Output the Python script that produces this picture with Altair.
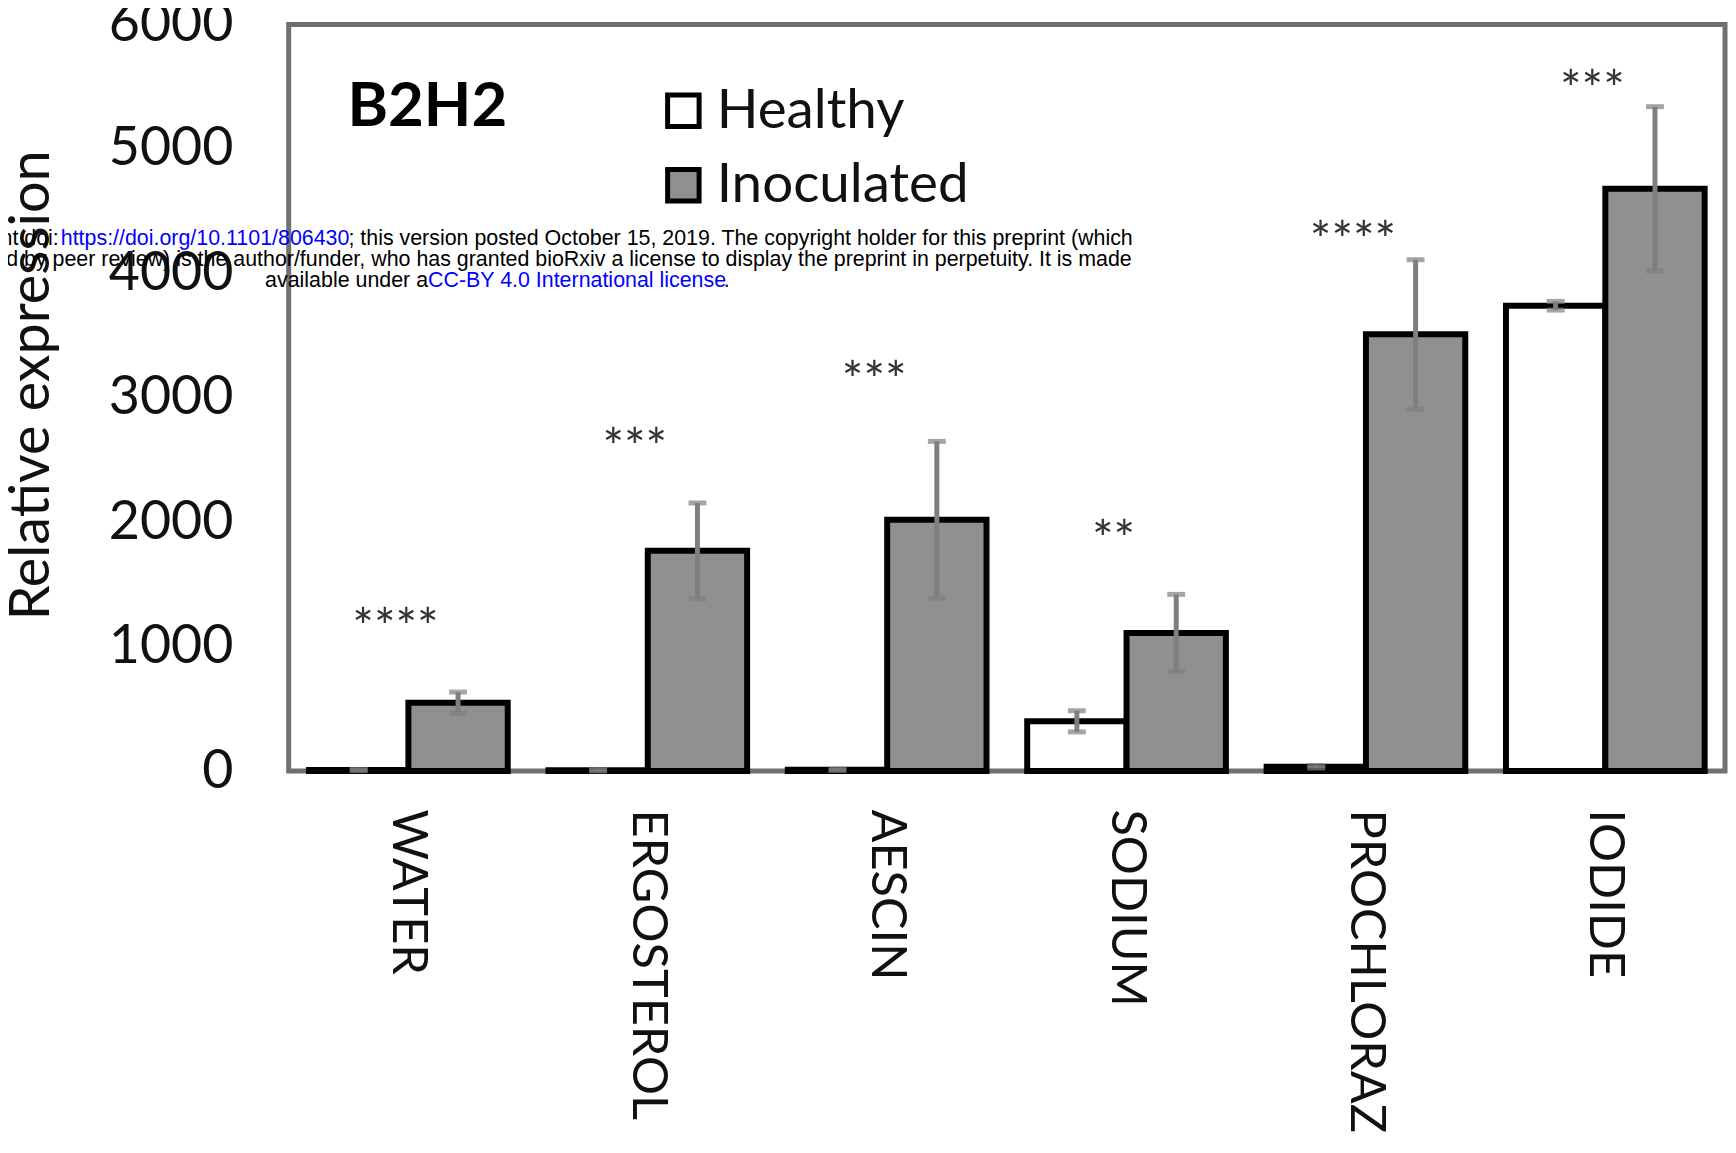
import altair as alt
import pandas as pd

categories = ["WATER", "ERGOSTEROL", "AESCIN", "SODIUM", "PROCHLORAZ", "IODIDE"]
groups = ["Healthy", "Inoculated"]
healthy = [8, 6, 10, 400, 35, 3740]
healthy_err = [5, 5, 5, 85, 10, 35]
inoculated = [550, 1770, 2020, 1110, 3510, 4680]
inoculated_err = [85, 385, 630, 310, 600, 660]
stars = ["****", "***", "***", "**", "****", "***"]
star_level = [1244, 2693, 3227, 1956, 4356, 5573]
y_ticks = [0, 1000, 2000, 3000, 4000, 5000, 6000]

rows = []
for i, c in enumerate(categories):
    rows.append({"category": c, "group": "Healthy", "value": healthy[i], "err": healthy_err[i]})
    rows.append({"category": c, "group": "Inoculated", "value": inoculated[i], "err": inoculated_err[i]})
df = pd.DataFrame(rows)
df["lo"] = df["value"] - df["err"]
df["hi"] = df["value"] + df["err"]
star_df = pd.DataFrame({"category": categories, "stars": stars, "level": star_level})

FONT = "Lato"
x_enc = alt.X(
    "category:N", sort=categories,
    scale=alt.Scale(paddingInner=0.17, paddingOuter=0.085),
    axis=alt.Axis(title=None, labelAngle=90, labelAlign="left", labelBaseline="middle",
                  labelFontSize=49, labelPadding=38, labelColor="#111111", labelFont=FONT,
                  labelLimit=0, domain=False, ticks=False),
)
xoff = alt.XOffset("group:N", sort=groups, scale=alt.Scale(paddingInner=0, paddingOuter=0))
y_scale = alt.Scale(domain=[0, 6000], nice=False)

bars = alt.Chart(df).mark_bar(stroke="black", strokeWidth=6).encode(
    x=x_enc,
    xOffset=xoff,
    y=alt.Y("value:Q", scale=y_scale,
            axis=alt.Axis(title="Relative expression", values=y_ticks, format="d", grid=False,
                          ticks=False, domain=False, labelFontSize=54, labelPadding=56,
                          labelFont=FONT, labelColor="#111111", titleFont=FONT, titleFontSize=56,
                          titleFontWeight="normal", titleColor="#111111", titleX=-258, titleY=362,
                          titleAngle=-90, titleBaseline="middle")),
    fill=alt.Fill("group:N", sort=groups,
                  scale=alt.Scale(domain=groups, range=["#ffffff", "#909090"]),
                  legend=alt.Legend(title=None, orient="none", legendX=369, legendY=59,
                                    symbolType="square", symbolSize=1000,
                                    symbolStrokeColor="black", symbolStrokeWidth=5,
                                    labelFontSize=55, labelFont=FONT, labelColor="#111111",
                                    labelLimit=0, labelOffset=6, rowPadding=19, padding=0)),
)

err_rule = alt.Chart(df).mark_rule(color="#7f7f7f", strokeWidth=5).encode(
    x=x_enc, xOffset=xoff, y=alt.Y("lo:Q", scale=y_scale), y2="hi:Q"
)
cap_lo = alt.Chart(df).mark_tick(color="#7f7f7f", thickness=5, size=18).encode(
    x=x_enc, xOffset=xoff, y=alt.Y("lo:Q", scale=y_scale)
)
cap_hi = alt.Chart(df).mark_tick(color="#7f7f7f", thickness=5, size=18).encode(
    x=x_enc, xOffset=xoff, y=alt.Y("hi:Q", scale=y_scale)
)

star_text = alt.Chart(star_df).mark_text(fontSize=51, font=FONT, color="#333333", dx=-13, dy=14,
                                         baseline="middle", align="center").encode(
    x=x_enc, y=alt.Y("level:Q", scale=y_scale), text="stars:N"
)

panel_label = alt.Chart(pd.DataFrame({"t": ["B2H2"]})).mark_text(
    fontSize=62, font=FONT, fontWeight="bold", color="#000000", align="left", baseline="alphabetic"
).encode(x=alt.value(59), y=alt.value(102), text="t:N")

WM_FONT = "Liberation Sans"
WM_SIZE = 21.5
wm_line1_pre = "bioRxiv preprint doi: "
wm_line1_link = "https://doi.org/10.1101/806430"
wm_line1_post = "; this version posted October 15, 2019. The copyright holder for this preprint (which"
wm_line2 = "was not certified by peer review) is the author/funder, who has granted bioRxiv a license to display the preprint in perpetuity. It is made"
wm_line3_pre = "available under a"
wm_line3_link = "CC-BY 4.0 International license"
wm_line3_post = "."


def wm(text, x, y, align, color):
    return alt.Chart(pd.DataFrame({"t": [text]})).mark_text(
        fontSize=WM_SIZE, font=WM_FONT, color=color, align=align, baseline="middle"
    ).encode(x=alt.value(x), y=alt.value(y), text="t:N")


watermark = [
    wm(wm_line1_pre, -231, 215, "right", "#000000"),
    wm(wm_line1_link, -229, 215, "left", "#0000ff"),
    wm(wm_line1_post, 60, 215, "left", "#000000"),
    wm(wm_line2, 847, 237, "right", "#000000"),
    wm(wm_line3_pre, 140, 258, "right", "#000000"),
    wm(wm_line3_link, 140, 258, "left", "#0000ff"),
    wm(wm_line3_post, 437, 258, "left", "#000000"),
]

chart = alt.layer(bars, err_rule, cap_lo, cap_hi, star_text, panel_label, *watermark).properties(
    width=1443, height=750,
    autosize=alt.AutoSizeParams(type="none"),
    padding={"left": 282, "top": 14, "right": 3, "bottom": 365},
    background="white",
).configure_view(stroke="#707070", strokeWidth=5)

chart.save("out.html", embed_options={"renderer": "svg", "actions": False})
